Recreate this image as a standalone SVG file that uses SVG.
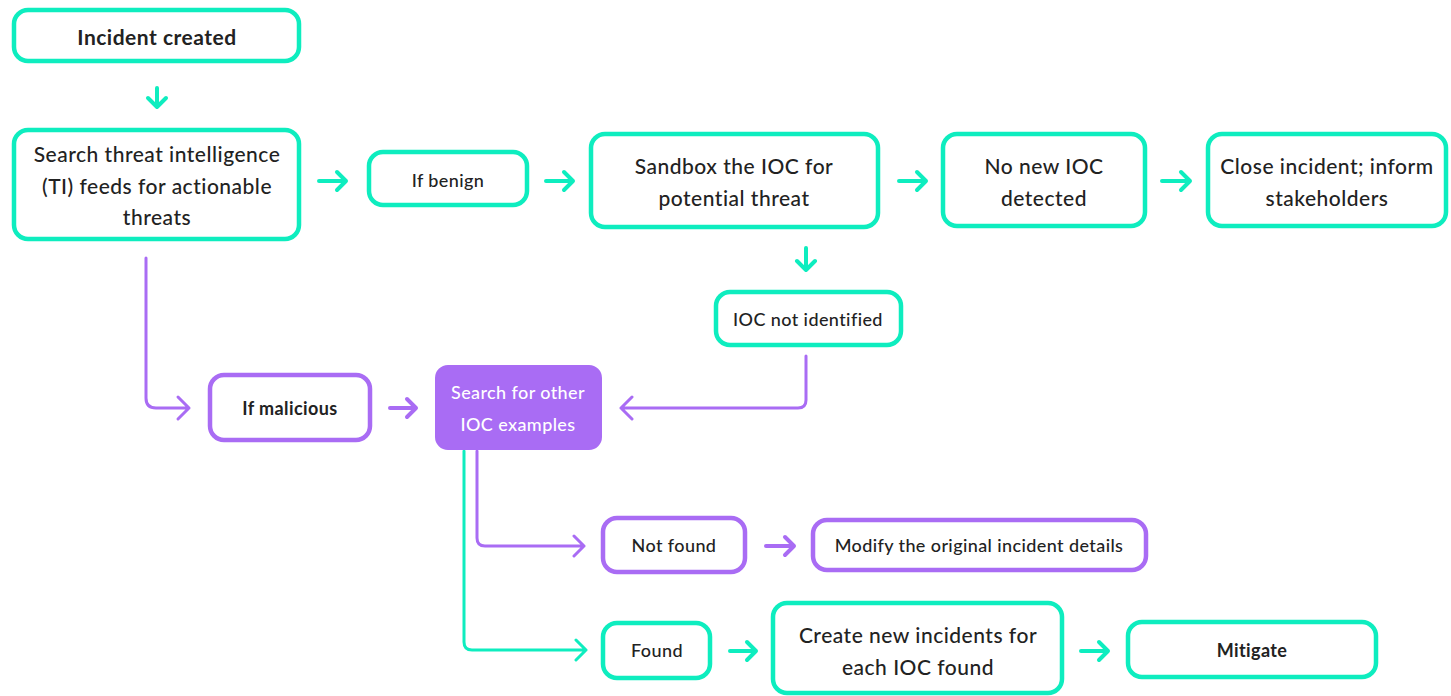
<svg xmlns="http://www.w3.org/2000/svg" width="1451" height="696" viewBox="0 0 1451 696">
<style>
.t{fill:#fff;stroke:#0eedbf;stroke-width:4.5}
.p{fill:#fff;stroke:#a96cf4;stroke-width:4.5}
.pf{fill:#a96cf4;stroke:#a96cf4;stroke-width:2}
text{font-family:"Lato","Noto Sans",sans-serif;fill:#222;text-anchor:middle;dominant-baseline:central}
.l{font-size:21px;font-weight:500;letter-spacing:0.5px}
.s{font-size:18px;font-weight:500;letter-spacing:0.4px}
.b{font-weight:700}
.w{fill:#fff}
.ta{fill:none;stroke:#0eedbf;stroke-width:4;stroke-linecap:round;stroke-linejoin:round}
.pa{fill:none;stroke:#a96cf4;stroke-width:4;stroke-linecap:round;stroke-linejoin:round}
.tc{fill:none;stroke:#0eedbf;stroke-width:3;stroke-linecap:round;stroke-linejoin:round}
.pc{fill:none;stroke:#a96cf4;stroke-width:3;stroke-linecap:round;stroke-linejoin:round}
</style>
<rect width="1451" height="696" fill="#fff"/>
<g id="connectors">
<path class="ta" d="M157 88V107M148 98L157 107L166 98"/>
<path class="ta" d="M319 181H346M337 172L346 181L337 190"/>
<path class="ta" d="M546 181H573M564 172L573 181L564 190"/>
<path class="ta" d="M899 181H926M917 172L926 181L917 190"/>
<path class="ta" d="M1162 181H1190M1181 172L1190 181L1181 190"/>
<path class="ta" d="M806 248V270M797 261L806 270L815 261"/>
<path class="pc" d="M146 258V398Q146 408 156 408H189M178 397L189 408L178 419"/>
<path class="pa" d="M390 408H416M407 399L416 408L407 417"/>
<path class="pc" d="M806 356V400Q806 408 798 408H621M632 397L621 408L632 419"/>
<path class="pc" d="M477 451V538Q477 546 485 546H584M574 536L584 546L574 556"/>
<path class="tc" d="M464 451V642Q464 650 472 650H586M576 640L586 650L576 660"/>
<path class="pa" d="M766 546H794M785 537L794 546L785 555"/>
<path class="ta" d="M730 651H756M747 642L756 651L747 660"/>
<path class="ta" d="M1081 651H1108M1099 642L1108 651L1099 660"/>
</g>
<g id="n-incident"><rect class="t" x="14" y="10" width="285" height="51" rx="14"/><text class="l b" x="157" y="36">Incident created</text></g>
<g id="n-search-ti"><rect class="t" x="14" y="130" width="285" height="109" rx="14"/><text class="l" x="157" y="153">Search threat intelligence</text><text class="l" x="157" y="185">(TI) feeds for actionable</text><text class="l" x="157" y="216">threats</text></g>
<g id="n-benign"><rect class="t" x="369" y="152" width="158" height="53" rx="14"/><text class="s" x="448" y="180">If benign</text></g>
<g id="n-sandbox"><rect class="t" x="591" y="134" width="287" height="93" rx="14"/><text class="l" x="734" y="165">Sandbox the IOC for</text><text class="l" x="734" y="197">potential threat</text></g>
<g id="n-nonew"><rect class="t" x="943" y="134" width="202" height="92" rx="14"/><text class="l" x="1044" y="165">No new IOC</text><text class="l" x="1044" y="197">detected</text></g>
<g id="n-close"><rect class="t" x="1208" y="134" width="238" height="92" rx="14"/><text class="l" x="1327" y="165">Close incident; inform</text><text class="l" x="1327" y="197">stakeholders</text></g>
<g id="n-notident"><rect class="t" x="716" y="292" width="185" height="53" rx="14"/><text class="s" x="808" y="319">IOC not identified</text></g>
<g id="n-malicious"><rect class="p" x="210" y="375" width="160" height="65" rx="14"/><text class="s b" x="290" y="408">If malicious</text></g>
<g id="n-searchioc"><rect class="pf" x="436" y="366" width="165" height="83" rx="12"/><text class="s w" x="518" y="392">Search for other</text><text class="s w" x="518" y="424">IOC examples</text></g>
<g id="n-notfound"><rect class="p" x="603" y="518" width="142" height="54" rx="14"/><text class="s" x="674" y="545">Not found</text></g>
<g id="n-modify"><rect class="p" x="813" y="520" width="333" height="50" rx="14"/><text class="s" x="979" y="545">Modify the original incident details</text></g>
<g id="n-found"><rect class="t" x="603" y="623" width="107" height="55" rx="14"/><text class="s" x="657" y="650">Found</text></g>
<g id="n-create"><rect class="t" x="773" y="603" width="289" height="90" rx="14"/><text class="l" x="918" y="634">Create new incidents for</text><text class="l" x="918" y="666">each IOC found</text></g>
<g id="n-mitigate"><rect class="t" x="1128" y="622" width="248" height="55" rx="14"/><text class="s b" x="1252" y="650">Mitigate</text></g>
</svg>
